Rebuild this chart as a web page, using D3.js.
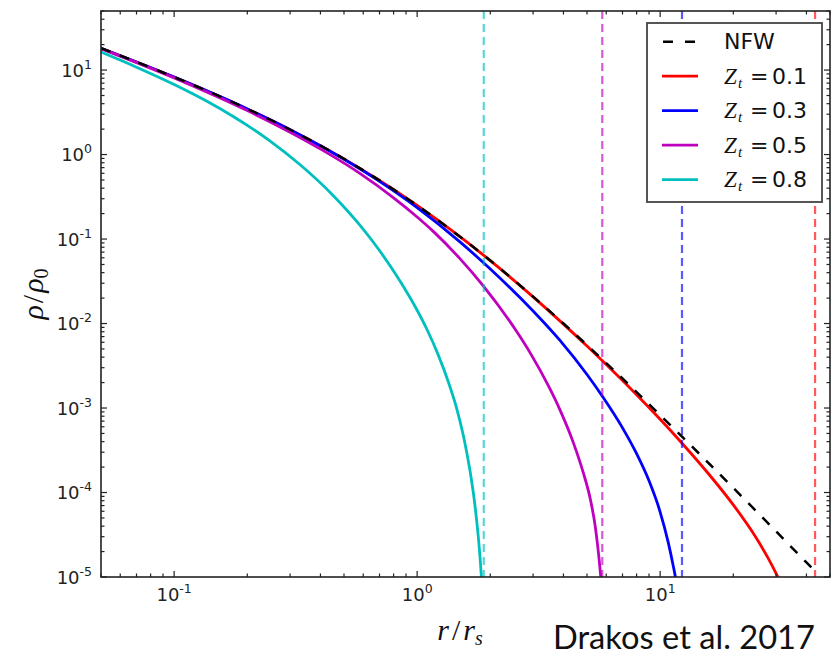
<!DOCTYPE html>
<html><head><meta charset="utf-8">
<script src="https://cdn.jsdelivr.net/npm/d3@7"></script>
<style>body{margin:0;background:#fff}svg{display:block}</style>
</head><body>
<script>
// ---- data ----
const nfwR   = [0.05,0.07,0.1,0.15,0.2,0.3,0.5,0.7,1,1.5,2,3,4,5,6,8,10,13,16,20,25,30,35,40,42.9];
const nfwRho = [18.14,12.48,8.26,5.04,3.47,1.972,0.889,0.494,0.25,0.1067,0.0556,0.02083,0.0100,0.00556,0.00340,0.001543,0.000826,0.000392,0.000216,0.0001134,0.0000592,0.0000347,0.0000220,0.00001487,0.0000121];

const zt01R   = [0.05,0.1,0.2,0.3,0.5,0.7,1,1.5,2,3,4,5,6,8,10,12.25,16,20,24.5,28,30.1,31.5];
const zt01Rho = [18.12,8.26,3.47,1.972,0.889,0.494,0.25,0.1067,0.05547,0.02069,0.009845,0.005408,0.003266,0.001435,0.000735,0.0003886,0.00016,0.0000714,0.00003097,0.00001615,0.0000108,0.00000824];

const zt03R   = [0.05,0.1,0.2,0.3,0.5,0.7,1,1.5,2,3,3.87,5,5.83,7,8,9,9.98,10.8,11.3,11.6,11.75];
const zt03Rho = [18.12,8.25,3.465,1.966,0.878,0.481,0.235,0.0925,0.0442,0.01407,0.00631,0.00249,0.00133,0.000582,0.000288,0.0001374,0.0000599,0.0000255,0.00001387,0.00000925,0.000007];

const zt05R   = [0.05,0.1,0.2,0.3,0.411,0.581,0.8,1.0,1.165,1.5,1.871,2.568,2.91,3.5,3.87,4.4,4.83,5.13,5.4,5.65,5.75];
const zt05Rho = [17.93,8.08,3.314,1.837,1.112,0.5992,0.3079,0.1824,0.1232,0.0586,0.02791,0.008045,0.004559,0.00174,0.000951,0.0003843,0.0001705,0.0000899,0.0000406,0.000013,0.0000073];

const zt08R   = [0.05,0.07,0.1,0.14,0.175,0.2,0.25,0.33,0.45,0.58,0.7,0.85,1.0,1.094,1.221,1.35,1.454,1.55,1.649,1.72,1.784,1.824,1.84,1.86];
const zt08Rho = [16.32,10.82,6.745,4.102,2.824,2.216,1.423,0.7565,0.3304,0.147,0.0731,0.03184,0.01435,0.00867,0.004257,0.001961,0.000992,0.0004705,0.000183,0.0000797,0.0000304,0.00001394,0.0000096,0.0000055];

const truncR = [43.4, 12.3, 5.78, 1.88];           // vertical dashed lines (Zt = 0.1, 0.3, 0.5, 0.8)
const seriesNames  = ["0.1","0.3","0.5","0.8"];
const seriesColors = ["#ff0000","#0000ff","#bf00bf","#00bfbf"];
const xTickExps = [-1,0,1];
const yTickExps = [-5,-4,-3,-2,-1,0,1];
const xDomain = [0.05, 50];
const yDomain = [1e-5, 50];

// ---- layout ----
const W = 831, H = 656;
const L = 101, R = 830, T = 11, B = 577;

const svg = d3.select("body").append("svg").attr("width", W).attr("height", H);
const x = d3.scaleLog().domain(xDomain).range([L, R]);
const y = d3.scaleLog().domain(yDomain).range([B, T]);

svg.append("defs").append("clipPath").attr("id","clip")
  .append("rect").attr("x",L).attr("y",T).attr("width",R-L).attr("height",B-T);

const plot = svg.append("g").attr("clip-path","url(#clip)");
const line = d3.line().x(d=>x(d[0])).y(d=>y(d[1])).curve(d3.curveMonotoneX);
const zip = (a,b)=>a.map((v,i)=>[v,b[i]]);

const series = [zip(zt01R,zt01Rho), zip(zt03R,zt03Rho), zip(zt05R,zt05Rho), zip(zt08R,zt08Rho)];

series.forEach((s,i)=>{
  plot.append("path").attr("d", line(s)).attr("fill","none")
    .attr("stroke", seriesColors[i]).attr("stroke-width",2.8)
    .attr("stroke-linejoin","round");
});
plot.append("path").attr("d", line(zip(nfwR,nfwRho))).attr("fill","none")
  .attr("stroke","#000").attr("stroke-width",2.5).attr("stroke-dasharray","10,10");

truncR.forEach((r,i)=>{
  plot.append("line").attr("x1",x(r)).attr("x2",x(r)).attr("y1",T).attr("y2",B)
    .attr("stroke",seriesColors[i]).attr("stroke-opacity",0.65)
    .attr("stroke-width",2.2).attr("stroke-dasharray","8,5");
});

// ---- axes frame & ticks ----
const axisG = svg.append("g").attr("stroke","#222").attr("stroke-width",1.2);
const xMajor = xTickExps.map(e=>Math.pow(10,e));
const yMajor = yTickExps.map(e=>Math.pow(10,e));
const isMajor = v => Math.abs(Math.log10(v) - Math.round(Math.log10(v))) < 1e-9;
const xMinor = x.ticks().filter(v=>!isMajor(v) && v>=xDomain[0] && v<=xDomain[1]);
const yMinor = y.ticks().filter(v=>!isMajor(v) && v>=yDomain[0] && v<=yDomain[1]);
const MJ = 6, MN = 3.5;
xMajor.forEach(v=>{const p=x(v);
  axisG.append("line").attr("x1",p).attr("x2",p).attr("y1",B).attr("y2",B-MJ);
  axisG.append("line").attr("x1",p).attr("x2",p).attr("y1",T).attr("y2",T+MJ);});
xMinor.forEach(v=>{const p=x(v);
  axisG.append("line").attr("x1",p).attr("x2",p).attr("y1",B).attr("y2",B-MN);
  axisG.append("line").attr("x1",p).attr("x2",p).attr("y1",T).attr("y2",T+MN);});
yMajor.forEach(v=>{const p=y(v);
  axisG.append("line").attr("y1",p).attr("y2",p).attr("x1",L).attr("x2",L+MJ);
  axisG.append("line").attr("y1",p).attr("y2",p).attr("x1",R).attr("x2",R-MJ);});
yMinor.forEach(v=>{const p=y(v);
  axisG.append("line").attr("y1",p).attr("y2",p).attr("x1",L).attr("x2",L+MN);
  axisG.append("line").attr("y1",p).attr("y2",p).attr("x1",R).attr("x2",R-MN);});
svg.append("rect").attr("x",L).attr("y",T).attr("width",R-L).attr("height",B-T)
  .attr("fill","none").attr("stroke","#222").attr("stroke-width",1.6);

// tick labels
const tickFont = "'DejaVu Sans', sans-serif";
function powLabel(g, xx, yy, e, anchor){
  const t = g.append("text").attr("x",xx).attr("y",yy).attr("text-anchor",anchor)
    .attr("font-family",tickFont).attr("font-size",18).attr("fill","#222");
  t.append("tspan").text("10");
  t.append("tspan").attr("dy",-8).attr("font-size",12.5).text(e<0 ? "-"+Math.abs(e) : String(e));
}
const lab = svg.append("g");
xTickExps.forEach(e=>powLabel(lab, x(Math.pow(10,e)), 601, e, "middle"));
yTickExps.forEach(e=>powLabel(lab, 92, y(Math.pow(10,e))+6.5, e, "end"));

// axis titles
const mathFont = "'Liberation Serif','DejaVu Serif',serif";
const xt = svg.append("text").attr("x",460).attr("y",640).attr("text-anchor","middle")
  .attr("font-family",mathFont).attr("font-style","italic").attr("font-size",30).attr("fill","#111");
xt.append("tspan").text("r");
xt.append("tspan").attr("font-style","normal").attr("dx",3).text("/");
xt.append("tspan").attr("dx",3).text("r");
xt.append("tspan").attr("font-size",20).attr("dy",5).text("s");

const yt = svg.append("text").attr("transform",`translate(43,${(T+B)/2}) rotate(-90)`)
  .attr("text-anchor","middle").attr("font-family",mathFont).attr("font-style","italic")
  .attr("font-size",30).attr("fill","#111");
yt.append("tspan").text("ρ");
yt.append("tspan").attr("font-style","normal").attr("dx",2).text("/");
yt.append("tspan").attr("dx",2).text("ρ");
yt.append("tspan").attr("font-style","normal").attr("font-size",20).attr("dy",5).text("0");

// citation
svg.append("text").attr("x",553).attr("y",648.5).attr("font-family","Lato, 'Open Sans', sans-serif")
  .attr("font-size",33).attr("fill","#111").attr("textLength",262).attr("lengthAdjust","spacingAndGlyphs")
  .text("Drakos et al. 2017");

// ---- legend ----
const lg = svg.append("g");
lg.append("rect").attr("x",647).attr("y",23).attr("width",175).attr("height",179)
  .attr("fill","#fff").attr("stroke","#444").attr("stroke-width",1.8);
const rowY = [41.7, 76.2, 110.6, 145.1, 179.6];
lg.append("line").attr("x1",663).attr("x2",697).attr("y1",rowY[0]).attr("y2",rowY[0])
  .attr("stroke","#000").attr("stroke-width",2.5).attr("stroke-dasharray","10,12");
lg.append("text").attr("x",724).attr("y",rowY[0]+7.5).attr("font-family",tickFont)
  .attr("font-size",22).attr("fill","#111").text("NFW");
seriesNames.forEach((nm,i)=>{
  const yy = rowY[i+1];
  lg.append("line").attr("x1",662).attr("x2",698).attr("y1",yy).attr("y2",yy)
    .attr("stroke",seriesColors[i]).attr("stroke-width",2.8);
  const t = lg.append("text").attr("y",yy+7.5).attr("fill","#111");
  t.append("tspan").attr("x",724).attr("font-family",mathFont).attr("font-style","italic")
    .attr("font-size",23).text("Z");
  t.append("tspan").attr("x",738).attr("dy",4).attr("font-family",mathFont).attr("font-style","italic")
    .attr("font-size",15).text("t");
  t.append("tspan").attr("x",750).attr("dy",-4).attr("font-family",tickFont)
    .attr("font-size",22).text("=");
  t.append("tspan").attr("x",772).attr("font-family",tickFont).attr("font-size",22).text(nm);
});
</script>
</body></html>
